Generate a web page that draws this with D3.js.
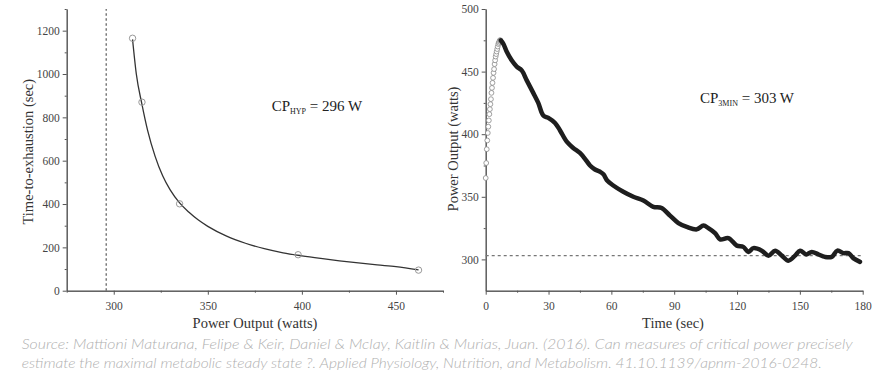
<!DOCTYPE html>
<html>
<head>
<meta charset="utf-8">
<script src="https://cdn.jsdelivr.net/npm/d3@7"></script>
<style>
  body { margin: 0; background: #fff; }
  svg { display: block; }
</style>
</head>
<body>
<script>
// ---- data: left panel (hyperbolic CP model) ----
var hypPower = [310, 315, 335, 398, 462];
var hypTime  = [1165, 870, 401, 166, 95];
// fitted curve
var fitPower = [310, 312, 315, 318, 322, 326, 330, 335, 340, 345, 350, 360, 370, 380, 390, 400, 410, 420, 430, 440, 450, 462];
var fitTime  = [1160, 1000, 860, 740, 620, 530, 465, 405, 362, 326, 297, 252, 219, 194, 175, 161, 149, 138, 128, 119, 111, 96];
var cpHyp = 296;

// ---- data: right panel (3-min all-out test) ----
var riseTime  = [0, 0.25, 0.5, 0.75, 1, 1.25, 1.5, 1.75, 2, 2.25, 2.5, 2.75, 3, 3.25, 3.5, 3.75, 4, 4.25, 4.5, 4.75, 5, 5.25, 5.5, 5.75, 6, 6.25, 6.5, 6.75, 7];
var risePower = [365, 377, 388, 395, 401, 406, 411, 416, 420, 424, 428, 433, 437, 441, 445, 449, 452, 456, 459, 462, 464, 466, 468, 470, 472, 473, 474, 475, 475];
var fallTime  = [7.2, 8.5, 10, 12.4, 14.8, 17.2, 19.6, 22.7, 25.1, 27.5, 29.9, 33.1, 35.5, 38.7, 41.8, 45, 48, 49.8, 52, 54.6, 56.2, 58, 60.9, 65.7, 70.5, 75.3, 80, 84, 88, 92, 96, 100.8, 104, 106.3, 109.5, 111.9, 115.9, 119.9, 123, 125.4, 127.8, 131.8, 135, 138.2, 141.4, 144.5, 147.7, 150.1, 153, 155.7, 158.8, 162, 165.2, 167.9, 170.8, 173.2, 175.5, 178.7];
var fallPower = [475, 472, 466, 459, 454, 451, 443, 433, 425, 415, 413, 409, 403, 394, 389, 385, 379, 375, 372, 370, 368, 363, 359, 354, 350, 347, 342, 341, 335, 329, 326, 324, 327, 325, 321, 316, 317, 311, 310, 306, 309, 307, 303, 307, 303, 299, 303, 307, 304, 306, 304, 302, 302, 307, 305, 305, 301, 298];
var cp3min = 303;

var leftXTicks = [300, 350, 400, 450];
var leftYTicks = [0, 200, 400, 600, 800, 1000, 1200];
var rightXTicks = [0, 30, 60, 90, 120, 150, 180];
var rightYTicks = [300, 350, 400, 450, 500];

var W = 886, H = 389;
var serif = '"Liberation Serif", "Times New Roman", serif';

var svg = d3.select("body").append("svg")
    .attr("width", W)
    .attr("height", H);

// axis styling helper
function styleAxis(g) {
  g.attr("font-family", serif).attr("font-size", 11.5);
  g.selectAll(".domain").attr("stroke", "#555");
  g.selectAll(".tick line").attr("stroke", "#555");
  g.selectAll(".tick text").attr("fill", "#444");
}

// ---------- left panel ----------
var xL = d3.scaleLinear().domain([275, 475]).range([66.7, 443]);
var yL = d3.scaleLinear().domain([0, 1300]).range([290.7, 9]);

var gL = svg.append("g");

gL.append("g")
    .attr("transform", "translate(0," + yL(0) + ")")
    .call(d3.axisBottom(xL).tickValues([275, 325, 375, 425, 475]).tickSize(2).tickFormat("").tickSizeOuter(0))
    .call(styleAxis);
gL.append("g")
    .attr("transform", "translate(0," + yL(0) + ")")
    .call(d3.axisBottom(xL).tickValues(leftXTicks).tickSize(4).tickPadding(7).tickSizeOuter(0).tickFormat(d3.format("d")))
    .call(styleAxis);
gL.append("g")
    .attr("transform", "translate(" + xL(275) + ",0)")
    .call(d3.axisLeft(yL).tickValues([100, 300, 500, 700, 900, 1100, 1300]).tickSize(2).tickFormat("").tickSizeOuter(0))
    .call(styleAxis);
gL.append("g")
    .attr("transform", "translate(" + xL(275) + ",0)")
    .call(d3.axisLeft(yL).tickValues(leftYTicks).tickSize(4).tickPadding(3).tickSizeOuter(0).tickFormat(d3.format("d")))
    .call(styleAxis);

// critical power line
gL.append("line")
    .attr("x1", xL(cpHyp)).attr("x2", xL(cpHyp))
    .attr("y1", yL(0)).attr("y2", yL(1300))
    .attr("stroke", "#666")
    .attr("stroke-width", 1.3)
    .attr("stroke-dasharray", "2.5,2.5");

var fitLine = d3.line()
    .x(function(d, i) { return xL(fitPower[i]); })
    .y(function(d, i) { return yL(fitTime[i]); })
    .curve(d3.curveMonotoneX);

gL.append("path")
    .datum(fitPower)
    .attr("d", fitLine)
    .attr("fill", "none")
    .attr("stroke", "#333")
    .attr("stroke-width", 1.3);

gL.selectAll("circle.pt")
    .data(hypPower)
    .enter().append("circle")
    .attr("class", "pt")
    .attr("cx", function(d) { return xL(d); })
    .attr("cy", function(d, i) { return yL(hypTime[i]); })
    .attr("r", 3.2)
    .attr("fill", "none")
    .attr("stroke", "#999")
    .attr("stroke-width", 1);

gL.append("text")
    .attr("transform", "translate(28," + 151.7 + ") rotate(-90)")
    .attr("text-anchor", "middle")
    .attr("dy", "0.35em")
    .style("font-family", serif).style("font-size", "14.5px").style("fill", "#333")
    .text("Time-to-exhaustion (sec)");

gL.append("text")
    .attr("x", 255).attr("y", 328)
    .attr("text-anchor", "middle")
    .style("font-family", serif).style("font-size", "14.5px").style("fill", "#333")
    .text("Power Output (watts)");

var annL = gL.append("text")
    .attr("x", 271.7).attr("y", 110.7)
    .style("font-family", serif).style("font-size", "15px").style("fill", "#222");
annL.append("tspan").text("CP");
annL.append("tspan").attr("dy", 3).style("font-size", "8px").text("HYP");
annL.append("tspan").attr("dy", -3).text(" = " + cpHyp + " W");

// ---------- right panel ----------
var xR = d3.scaleLinear().domain([0, 180]).range([485.7, 862.7]);
var yR = d3.scaleLinear().domain([275, 500]).range([290.7, 9]);

var gR = svg.append("g");

gR.append("g")
    .attr("transform", "translate(0," + yR(275) + ")")
    .call(d3.axisBottom(xR).tickValues([15, 45, 75, 105, 135, 165]).tickSize(2).tickFormat("").tickSizeOuter(0))
    .call(styleAxis);
gR.append("g")
    .attr("transform", "translate(0," + yR(275) + ")")
    .call(d3.axisBottom(xR).tickValues(rightXTicks).tickSize(4).tickPadding(7).tickSizeOuter(0))
    .call(styleAxis);
gR.append("g")
    .attr("transform", "translate(" + xR(0) + ",0)")
    .call(d3.axisLeft(yR).tickValues([325, 375, 425, 475]).tickSize(2).tickFormat("").tickSizeOuter(0))
    .call(styleAxis);
gR.append("g")
    .attr("transform", "translate(" + xR(0) + ",0)")
    .call(d3.axisLeft(yR).tickValues(rightYTicks).tickSize(4).tickPadding(3).tickSizeOuter(0))
    .call(styleAxis);

gR.append("line")
    .attr("x1", xR(0)).attr("x2", xR(180))
    .attr("y1", yR(cp3min)).attr("y2", yR(cp3min))
    .attr("stroke", "#777")
    .attr("stroke-width", 1.3)
    .attr("stroke-dasharray", "3,3");

gR.selectAll("circle.rise")
    .data(riseTime)
    .enter().append("circle")
    .attr("class", "rise")
    .attr("cx", function(d) { return xR(d); })
    .attr("cy", function(d, i) { return yR(risePower[i]); })
    .attr("r", 2.4)
    .attr("fill", "#fff")
    .attr("stroke", "#888")
    .attr("stroke-width", 0.8);

var powerLine = d3.line()
    .x(function(d) { return xR(d); })
    .y(function(d, i) { return yR(fallPower[i]); })
    .curve(d3.curveCatmullRom);

gR.append("path")
    .datum(fallTime)
    .attr("d", powerLine)
    .attr("fill", "none")
    .attr("stroke", "#1e1e1e")
    .attr("stroke-width", 4.5)
    .attr("stroke-linejoin", "round")
    .attr("stroke-linecap", "round");

gR.append("text")
    .attr("transform", "translate(453.3,149) rotate(-90)")
    .attr("text-anchor", "middle")
    .attr("dy", "0.35em")
    .style("font-family", serif).style("font-size", "14.5px").style("fill", "#333")
    .text("Power Output (watts)");

gR.append("text")
    .attr("x", 673).attr("y", 328)
    .attr("text-anchor", "middle")
    .style("font-family", serif).style("font-size", "14.5px").style("fill", "#333")
    .text("Time (sec)");

var annR = gR.append("text")
    .attr("x", 700).attr("y", 102.7)
    .style("font-family", serif).style("font-size", "15px").style("fill", "#222");
annR.append("tspan").text("CP");
annR.append("tspan").attr("dy", 3).style("font-size", "8px").text("3MIN");
annR.append("tspan").attr("dy", -3).text(" = " + cp3min + " W");

// ---------- caption ----------
var caption = [
  "Source: Mattioni Maturana, Felipe & Keir, Daniel & Mclay, Kaitlin & Murias, Juan. (2016). Can measures of critical power precisely",
  "estimate the maximal metabolic steady state ?. Applied Physiology, Nutrition, and Metabolism. 41.10.1139/apnm-2016-0248."
];
var capLen = [831, 800];

svg.selectAll("text.cap")
    .data(caption)
    .enter().append("text")
    .attr("class", "cap")
    .attr("x", 21.7)
    .attr("y", function(d, i) { return 349.3 + i * 18.5; })
    .attr("textLength", function(d, i) { return capLen[i]; })
    .attr("lengthAdjust", "spacingAndGlyphs")
    .style("font-family", "Lato, sans-serif")
    .style("font-style", "italic")
    .style("font-weight", 300)
    .style("font-size", "13.5px")
    .style("fill", "#b0b0b0")
    .text(function(d) { return d; });
</script>
</body>
</html>
